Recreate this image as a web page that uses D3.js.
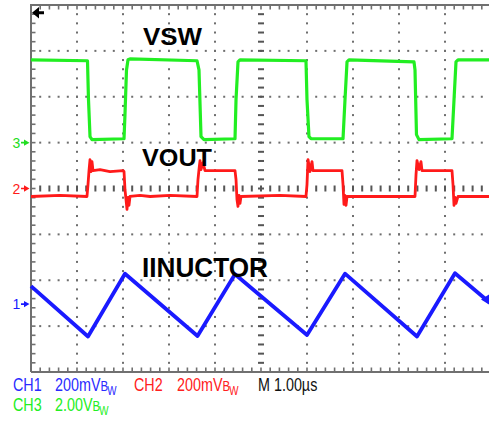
<!DOCTYPE html>
<html><head><meta charset="utf-8">
<script src="https://cdn.jsdelivr.net/npm/d3@7"></script>
<style>html,body{margin:0;padding:0;background:#fff;overflow:hidden}svg{display:block}</style>
</head><body>
<svg id="c" width="489" height="421"></svg>
<script>
// ---- data (time in µs from left edge of screen, 1 µs/div) ----
const vswTime  = [0,1.228,1.25,1.283,1.326,2.022,2.043,2.076,2.109,2.152,3.609,3.652,3.696,3.761,4.435,4.457,4.5,4.543,5.978,6.0,6.043,6.087,6.783,6.826,6.87,6.913,8.326,8.348,8.38,8.435,9.152,9.196,9.239,9.283,9.957];
const vswVolts = [3.61,3.57,1.87,0.26,0.13,0.17,1.22,3.17,3.61,3.65,3.57,3.17,0.26,0.13,0.17,1.87,3.52,3.61,3.57,1.87,0.26,0.17,0.17,1.87,3.52,3.61,3.52,3.17,0.35,0.13,0.17,1.87,3.52,3.61,3.61];

const voutTime = [0,0.63,1.217,1.239,1.261,1.283,1.304,1.326,1.348,1.5,1.717,2.0,2.022,2.043,2.065,2.087,2.109,2.13,2.152,2.37,2.59,3.022,3.609,3.63,3.652,3.674,3.696,3.739,3.783,4.1,4.435,4.457,4.478,4.5,4.522,4.543,4.565,5.413,5.978,6.0,6.022,6.065,6.109,6.13,6.761,6.783,6.804,6.826,6.848,6.87,7.587,8.348,8.37,8.391,8.435,8.478,8.5,9.152,9.174,9.196,9.217,9.239,9.283,9.957];
const voutMv   = [-34.8,-30.4,-34.8,17.4,78.3,126,73.9,117.4,78.3,82.6,73.9,78.3,73.9,-4.3,-47.8,-91.3,-39.1,-73.9,-34.8,-30.4,-34.8,-30.4,-34.8,39.1,82.6,121.7,82.6,113,78.3,78.3,78.3,39.1,-47.8,-78.3,-30.4,-65.2,-34.8,-30.4,-34.8,17.4,126,73.9,117.4,78.3,78.3,17.4,-69.6,-30.4,-73.9,-34.8,-34.8,-34.8,60.9,121.7,82.6,117.4,78.3,78.3,17.4,-73.9,-39.1,-65.2,-34.8,-34.8];

const iindTime = [0,1.239,2.043,3.62,4.435,6.0,6.826,8.391,9.217,9.957];
const iindMv   = [78.3,-141.3,132.6,-139.1,130.4,-134.8,132.6,-141.3,134.8,8.7];

const labels = ["VSW","VOUT","IINUCTOR"];
const ch1Text = ["CH1","200mV"], ch2Text = ["CH2","200mV"], ch3Text = ["CH3","2.00V"], timebaseText = "M 1.00µs";

// ---- layout ----
const svg = d3.select("#c");
const x = d3.scaleLinear().domain([0,10]).range([31,491]);
const yDiv = d3.scaleLinear().domain([-4,4]).range([372,5]);
const yCh3 = d3.scaleLinear().domain([0,2]).range([yDiv(1),yDiv(2)]);      // 2 V/div, ref at +1 div
const yCh2 = d3.scaleLinear().domain([0,200]).range([yDiv(0),yDiv(1)]);    // 200 mV/div, ref at 0
const ch1Ref = -2.52;
const yCh1 = d3.scaleLinear().domain([0,200]).range([yDiv(ch1Ref),yDiv(ch1Ref+1)]);

const gridCol = "#6e6e6e";
const g = svg.append("g");
const sub = d3.range(0,10.001,0.2);
const subY = d3.range(-4,4.001,0.2);

// dotted grid lines
const dots = [];
for (let k=1;k<10;k++){ if(k===5) continue; subY.forEach(v=>dots.push([x(k),yDiv(v)])); }
for (let k=-3;k<=3;k++){ if(k===0) continue; sub.forEach(t=>dots.push([x(t),yDiv(k)])); }
g.selectAll(".dot").data(dots).join("rect").attr("x",d=>d[0]-1).attr("y",d=>d[1]-1)
  .attr("width",2).attr("height",2).attr("fill",gridCol);

// center axes with dashes
g.selectAll(".cy").data(subY).join("rect").attr("x",x(5)-3).attr("y",d=>yDiv(d)-1).attr("width",6).attr("height",2).attr("fill","#555");
g.selectAll(".cx").data(sub).join("rect").attr("x",d=>x(d)-1).attr("y",yDiv(0)-3).attr("width",2).attr("height",6).attr("fill","#555");

// border with ticks
g.append("path").attr("d",`M${x(0)},${yDiv(-4)}V${yDiv(4)}H${x(10)}M${x(0)},${yDiv(-4)}H${x(10)}`)
  .attr("stroke","#707070").attr("stroke-width",2).attr("fill","none");
g.selectAll(".tt").data(sub).join("line").attr("x1",d=>x(d)).attr("x2",d=>x(d)).attr("y1",yDiv(4)).attr("y2",yDiv(4)+4.5).attr("stroke","#707070").attr("stroke-width",1.6);
g.selectAll(".tb").data(sub).join("line").attr("x1",d=>x(d)).attr("x2",d=>x(d)).attr("y1",yDiv(-4)).attr("y2",yDiv(-4)-4.5).attr("stroke","#707070").attr("stroke-width",1.6);
g.selectAll(".tl").data(subY).join("line").attr("x1",x(0)).attr("x2",x(0)+4.5).attr("y1",d=>yDiv(d)).attr("y2",d=>yDiv(d)).attr("stroke","#707070").attr("stroke-width",1.6);

// traces
const line = (ys)=>d3.line().x(d=>x(d[0])).y(d=>ys(d[1]));
svg.append("path").datum(d3.zip(vswTime,vswVolts)).attr("d",line(yCh3)).attr("fill","none").attr("stroke","#22ee22").attr("stroke-width",3.2).attr("stroke-linejoin","round");
svg.append("path").datum(d3.zip(voutTime,voutMv)).attr("d",line(yCh2)).attr("fill","none").attr("stroke","#ff1a1a").attr("stroke-width",2.8).attr("stroke-linejoin","round");
svg.append("path").datum(d3.zip(iindTime,iindMv)).attr("d",line(yCh1)).attr("fill","none").attr("stroke","#1a1aff").attr("stroke-width",3.8).attr("stroke-linejoin","round");

// trigger arrow (top-left)
svg.append("path").attr("d",`M${x(0)+1},12.8L39,7L39,18.5Z M38,11.3H44V14.3H38Z`).attr("fill","#000");
// ch1 marker at right edge
svg.append("path").attr("d",`M481,${yCh1(20)}L489,${yCh1(20)-5}L489,${yCh1(20)+5}Z`).attr("fill","#1a1aff");

// channel reference markers on left
const markers = [["3",yCh3(0),"#22dd22"],["2",yCh2(0),"#ff1a1a"],["1",yCh1(0),"#1a1aff"]];
markers.forEach(([t,yy,c])=>{
  svg.append("text").attr("x",12.5).attr("y",yy+5).attr("font-family","Liberation Sans, Arial, sans-serif").attr("font-size",14).attr("fill",c).text(t);
  svg.append("path").attr("d",`M21,${yy-0.8}H25V${yy+0.8}H21Z M24,${yy-3.2}L29.5,${yy}L24,${yy+3.2}Z`).attr("fill",c);
});

// big labels
const lab = [[labels[0],143,45,24,59],[labels[1],142,166,23,70],[labels[2],142,277,27.5,126]];
lab.forEach(([t,xx,yy,fs,w])=>{
  svg.append("text").attr("x",xx).attr("y",yy).attr("font-family","Liberation Sans, Arial, sans-serif").attr("font-weight","bold")
    .attr("font-size",fs).attr("textLength",w).attr("lengthAdjust","spacingAndGlyphs").attr("fill","#000").text(t);
});

// status line text
function stxt(xx,yy,col,str,bw){
  const t = svg.append("g").attr("transform",`translate(${xx},${yy}) scale(0.82,1)`)
    .append("text").attr("font-family","Liberation Sans, Arial, sans-serif").attr("font-size",17.5).attr("fill",col);
  t.append("tspan").text(str);
  if(bw){ t.append("tspan").attr("font-size",14).text("B"); t.append("tspan").attr("font-size",12).attr("dx",-1).attr("dy",4).text("W"); }
}
stxt(13,391,"#2a2aff",ch1Text[0]); stxt(55,391,"#2a2aff",ch1Text[1],true);
stxt(134,391,"#ff2020",ch2Text[0]); stxt(177,391,"#ff2020",ch2Text[1],true);
stxt(258,391,"#111",timebaseText);
stxt(13,411,"#22ee22",ch3Text[0]); stxt(55,411,"#22ee22",ch3Text[1],true);
</script>
</body></html>
